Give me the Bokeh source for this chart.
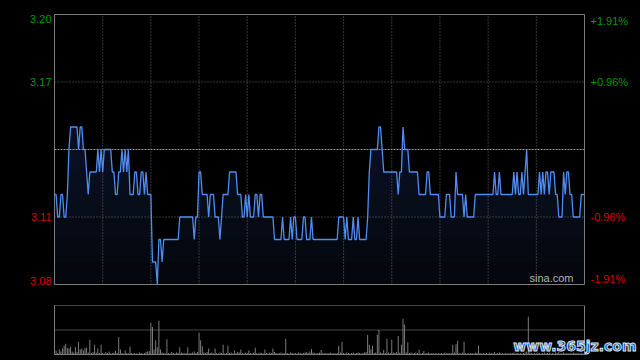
import numpy as np
from bokeh.plotting import figure
from bokeh.layouts import column
from bokeh.models import Range1d
from bokeh.core.properties import value
from bokeh.embed import file_html
from bokeh.resources import INLINE

# ---- data ----
prev_close = 3.14
price_ticks = [3.08, 3.11, 3.14, 3.17, 3.20]
time_grid = [30, 60, 90, 120, 150, 180, 210, 240, 270, 300]
session_minutes = 330

prices = [
    3.12, 3.12, 3.11, 3.11, 3.12, 3.12, 3.11, 3.11, 3.12, 3.14,
    3.15, 3.15, 3.15, 3.15, 3.15, 3.14, 3.15, 3.15, 3.14, 3.14,
    3.13, 3.12, 3.13, 3.13, 3.13, 3.13, 3.13, 3.14, 3.13, 3.14,
    3.13, 3.14, 3.14, 3.14, 3.14, 3.14, 3.13, 3.13, 3.12, 3.12,
    3.13, 3.13, 3.14, 3.13, 3.14, 3.13, 3.14, 3.12, 3.12, 3.12,
    3.13, 3.13, 3.12, 3.12, 3.13, 3.13, 3.12, 3.13, 3.12, 3.12,
    3.12, 3.09, 3.09, 3.09, 3.08, 3.10, 3.10, 3.09, 3.10, 3.10,
    3.10, 3.10, 3.10, 3.10, 3.10, 3.10, 3.10, 3.10, 3.11, 3.11,
    3.11, 3.11, 3.11, 3.11, 3.11, 3.11, 3.11, 3.10, 3.11, 3.11,
    3.13, 3.13, 3.12, 3.12, 3.12, 3.12, 3.11, 3.12, 3.12, 3.12,
    3.11, 3.11, 3.11, 3.10, 3.11, 3.12, 3.12, 3.12, 3.12, 3.13,
    3.13, 3.13, 3.13, 3.13, 3.12, 3.12, 3.12, 3.11, 3.11, 3.12,
    3.11, 3.12, 3.11, 3.11, 3.11, 3.12, 3.12, 3.11, 3.12, 3.12,
    3.11, 3.11, 3.11, 3.11, 3.11, 3.11, 3.11, 3.10, 3.10, 3.10,
    3.10, 3.10, 3.11, 3.10, 3.10, 3.10, 3.10, 3.11, 3.10, 3.11,
    3.11, 3.10, 3.10, 3.10, 3.10, 3.11, 3.11, 3.10, 3.10, 3.10,
    3.11, 3.10, 3.10, 3.10, 3.10, 3.10, 3.10, 3.10, 3.10, 3.10,
    3.10, 3.10, 3.10, 3.10, 3.10, 3.10, 3.10, 3.11, 3.11, 3.11,
    3.11, 3.10, 3.11, 3.10, 3.10, 3.10, 3.11, 3.10, 3.10, 3.11,
    3.10, 3.10, 3.10, 3.10, 3.10, 3.11, 3.13, 3.14, 3.14, 3.14,
    3.14, 3.14, 3.15, 3.15, 3.14, 3.13, 3.13, 3.13, 3.13, 3.13,
    3.13, 3.13, 3.13, 3.13, 3.12, 3.13, 3.13, 3.15, 3.14, 3.14,
    3.14, 3.13, 3.13, 3.13, 3.13, 3.13, 3.13, 3.12, 3.12, 3.12,
    3.12, 3.12, 3.13, 3.13, 3.12, 3.12, 3.12, 3.12, 3.12, 3.12,
    3.11, 3.11, 3.11, 3.11, 3.12, 3.12, 3.12, 3.11, 3.11, 3.11,
    3.13, 3.12, 3.12, 3.12, 3.12, 3.11, 3.12, 3.11, 3.11, 3.11,
    3.11, 3.11, 3.12, 3.12, 3.12, 3.12, 3.12, 3.12, 3.12, 3.12,
    3.12, 3.12, 3.12, 3.12, 3.13, 3.12, 3.12, 3.13, 3.12, 3.12,
    3.12, 3.12, 3.12, 3.12, 3.12, 3.12, 3.13, 3.12, 3.13, 3.12,
    3.12, 3.13, 3.12, 3.13, 3.14, 3.12, 3.12, 3.12, 3.12, 3.12,
    3.12, 3.12, 3.13, 3.12, 3.13, 3.12, 3.13, 3.13, 3.12, 3.13,
    3.13, 3.13, 3.12, 3.12, 3.11, 3.11, 3.11, 3.13, 3.12, 3.13,
    3.13, 3.12, 3.12, 3.11, 3.11, 3.11, 3.11, 3.11, 3.12, 3.12,
    3.12,
]

volumes = [
    50, 8, 3, 10, 6, 12, 18, 22, 14, 12,
    16, 6, 4, 15, 5, 26, 10, 12, 8, 13,
    14, 4, 30, 3, 5, 20, 4, 12, 3, 20,
    3, 2, 5, 3, 6, 2, 3, 4, 7, 3,
    35, 10, 3, 2, 8, 3, 2, 16, 3, 2,
    3, 2, 2, 4, 3, 2, 3, 5, 6, 7,
    65, 56, 10, 29, 15, 69, 10, 4, 3, 2,
    31, 3, 2, 5, 3, 2, 4, 3, 15, 4,
    3, 2, 3, 15, 2, 3, 4, 6, 3, 5,
    45, 29, 17, 4, 3, 5, 12, 3, 4, 2,
    12, 3, 2, 4, 3, 20, 2, 3, 18, 3,
    4, 2, 8, 3, 5, 4, 10, 3, 2, 4,
    3, 8, 3, 2, 4, 14, 3, 2, 4, 3,
    2, 10, 3, 2, 4, 3, 12, 5, 3, 2,
    3, 4, 2, 3, 32, 3, 2, 4, 3, 2,
    3, 2, 4, 3, 2, 3, 4, 5, 3, 6,
    11, 4, 3, 2, 3, 4, 9, 3, 2, 3,
    2, 3, 4, 2, 3, 2, 3, 18, 4, 26,
    3, 2, 4, 3, 2, 3, 4, 2, 3, 4,
    3, 2, 3, 4, 5, 40, 20, 10, 18, 3,
    4, 40, 50, 4, 3, 9, 3, 32, 4, 3,
    30, 4, 3, 5, 38, 4, 20, 73, 61, 4,
    25, 3, 4, 2, 3, 4, 3, 9, 2, 3,
    7, 2, 3, 4, 2, 3, 2, 3, 2, 3,
    2, 3, 2, 4, 2, 3, 2, 3, 20, 4,
    21, 28, 3, 2, 4, 26, 3, 2, 3, 2,
    3, 2, 4, 3, 18, 3, 2, 3, 2, 3,
    2, 4, 3, 2, 5, 2, 3, 4, 2, 3,
    2, 3, 2, 3, 2, 3, 4, 2, 3, 2,
    3, 2, 3, 4, 6, 77, 4, 3, 2, 3,
    2, 4, 3, 2, 3, 4, 2, 3, 4, 2,
    3, 2, 4, 3, 5, 2, 3, 4, 2, 3,
    2, 3, 2, 4, 3, 2, 3, 2, 3, 2,
    3,
]
volume_max = 100

minutes = np.arange(len(prices))
price_arr = np.array(prices)

# ---- layout (pixels) ----
W = 640
MAIN_H, VOL_H = 295, 65
LEFT, RIGHT = 54, 56            # margins around the plotting boxes
MAIN_TOP, MAIN_BOTTOM = 14, 11
VOL_TOP, VOL_BOTTOM = 10, 6

BG = "#000000"
GRID = "#6a6a6a"
FRAME = "#7c7c7c"
UP = "#009a00"
DOWN = "#dd0000"
FONT = value("Liberation Sans")

plot_w = W - LEFT - RIGHT
xpp = session_minutes / plot_w
x_range = Range1d(-LEFT * xpp, session_minutes + RIGHT * xpp)

lo, hi = price_ticks[0], price_ticks[-1]
ypp = (hi - lo) / (MAIN_H - MAIN_TOP - MAIN_BOTTOM)

common = dict(x_axis_type=None, y_axis_type=None, toolbar_location=None,
              output_backend="svg", min_border=0, background_fill_color=BG,
              border_fill_color=BG, styles={"background-color": BG})

p = figure(width=W, height=MAIN_H, x_range=x_range,
           y_range=Range1d(lo - MAIN_BOTTOM * ypp, hi + MAIN_TOP * ypp), **common)
p.outline_line_color = None
p.grid.visible = False

# area fill with a soft vertical gradient
p.varea(x=minutes, y1=lo, y2=price_arr, fill_color="#04070d")
for lvl in np.arange(lo + 0.01, hi - 0.045, 0.01):
    p.varea(x=minutes, y1=lvl, y2=np.maximum(price_arr, lvl),
            fill_color="#1a2a50", fill_alpha=0.08)

# grid
inner = [t for t in price_ticks[1:-1] if t != prev_close]
p.segment(x0=[0] * len(inner), x1=[session_minutes] * len(inner), y0=inner, y1=inner,
          line_color=GRID, line_dash="1 2", line_width=1)
p.segment(x0=time_grid, x1=time_grid, y0=[lo] * len(time_grid), y1=[hi] * len(time_grid),
          line_color=GRID, line_dash="1 2", line_width=1)
p.segment(x0=[0], x1=[session_minutes], y0=[prev_close], y1=[prev_close],
          line_color="#9a9a9a", line_dash="2 1", line_width=1)

p.line(minutes, price_arr, line_color="#4f8df2", line_width=1.3)

# frame box
p.quad(left=[0], right=[session_minutes], bottom=[lo], top=[hi],
       fill_color=None, line_color=FRAME, line_width=1)

# tick labels
for t in price_ticks:
    if t == prev_close:
        continue
    col = UP if t > prev_close else DOWN
    base = "top" if t == hi else ("bottom" if t == lo else "middle")
    pct = (t - prev_close) / prev_close * 100
    p.text(x=[0], y=[t], text=[f"{t:.2f}"], x_offset=-3, text_align="right",
           text_baseline=base, text_color=col, text_font=FONT, text_font_size="11px")
    p.text(x=[session_minutes], y=[t], text=[f"{pct:+.2f}%"], x_offset=6,
           text_align="left", text_baseline=base, text_color=col, text_font=FONT,
           text_font_size="11px")

p.text(x=[session_minutes], y=[lo], text=["sina.com"], x_offset=-11, y_offset=-1,
       text_align="right", text_baseline="bottom", text_color="#b4b4b4",
       text_font=FONT, text_font_size="11px")

# ---- volume panel ----
vpp = volume_max / (VOL_H - VOL_TOP - VOL_BOTTOM)
pv = figure(width=W, height=VOL_H, x_range=x_range,
            y_range=Range1d(-VOL_BOTTOM * vpp, volume_max + VOL_TOP * vpp), **common)
pv.outline_line_color = None
pv.grid.visible = False

pv.vbar(x=minutes, top=volumes, bottom=0, width=0.55,
        fill_color="#8a8a8a", line_color=None)

pv.segment(x0=[0, 0], x1=[session_minutes] * 2, y0=[volume_max, volume_max / 2],
           y1=[volume_max, volume_max / 2], line_color="#8a8a8a", line_dash="1 1",
           line_width=1)
pv.segment(x0=[0, session_minutes, 0], x1=[0, session_minutes, session_minutes],
           y0=[0, 0, 0], y1=[volume_max, volume_max, 0],
           line_color=FRAME, line_width=1)

pv.text(x=[session_minutes], y=[0], text=["www.365jz.com"], x_offset=52, y_offset=-1,
        text_align="right", text_baseline="bottom", text_color="#1d4f9c",
        text_font=value("DejaVu Sans"), text_font_style="bold", text_font_size="14px",
        text_outline_color="#d8e4f4")

layout = column(p, pv, spacing=0, styles={"background-color": BG})
open("out.html", "w").write(file_html(layout, INLINE))
